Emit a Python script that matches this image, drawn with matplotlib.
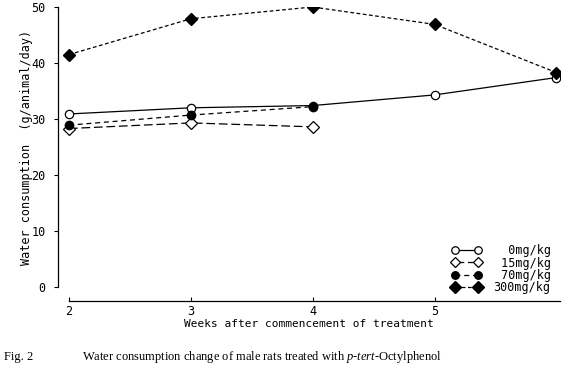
import matplotlib
matplotlib.use('Agg')
import matplotlib.pyplot as plt

###=========== data ==========
weeks = [2, 3, 4, 5, 6]
dose_0 = [30.9, 32.0, 32.4, 34.3, 37.4]
weeks_15 = [2, 3, 4]
dose_15 = [28.3, 29.3, 28.6]
weeks_70 = [2, 3, 4]
dose_70 = [28.9, 30.7, 32.2]
dose_300 = [41.5, 47.9, 50.0, 46.9, 38.3]
labels = ['  0mg/kg', ' 15mg/kg', ' 70mg/kg', '300mg/kg']
yticks = [0, 10, 20, 30, 40, 50]
xticks = [2, 3, 4, 5]

plt.rcParams['mathtext.fontset'] = 'custom'
plt.rcParams['mathtext.it'] = 'Liberation Serif:italic'
plt.rcParams['mathtext.rm'] = 'Liberation Serif'
mono = 'DejaVu Sans Mono'

fig = plt.figure(figsize=(5.75, 3.79), dpi=100)
ax = fig.add_axes([58/575, 92/379, 502/575, 280/379])

ax.plot(weeks, dose_0, color='black', lw=0.9, ls='-', marker='o', ms=6,
        mfc='white', mec='black', mew=0.9, label=labels[0], zorder=3)
ax.plot(weeks_15, dose_15, color='black', lw=0.9, ls=(0, (7, 3)), marker='D', ms=6,
        mfc='white', mec='black', mew=0.9, label=labels[1], zorder=3)
ax.plot(weeks_70, dose_70, color='black', lw=0.9, ls=(0, (4, 3)), marker='o', ms=6,
        mfc='black', mec='black', label=labels[2], zorder=4)
ax.plot(weeks, dose_300, color='black', lw=0.9, ls=(0, (3, 2)), marker='D', ms=6.5,
        mfc='black', mec='black', label=labels[3], zorder=4)

ax.set_xlim(1.91, 6.03)
ax.set_ylim(0, 50)
ax.spines['top'].set_visible(False)
ax.spines['right'].set_visible(False)
ax.spines['bottom'].set_position(('outward', 10))
ax.spines['bottom'].set_bounds(2, 6.03)
ax.spines['left'].set_linewidth(0.9)
ax.spines['bottom'].set_linewidth(0.9)

ax.set_xticks(xticks)
ax.set_yticks(yticks)
ax.tick_params(axis='x', direction='in', length=3, width=0.8, labelsize=8.5, pad=3)
ax.tick_params(axis='y', direction='out', length=3, width=0.8, labelsize=8.5, pad=6)
for t in ax.get_xticklabels() + ax.get_yticklabels():
    t.set_family(mono)

ax.set_ylabel('Water consumption  (g/animal/day)', family=mono, fontsize=8.5, labelpad=-1)
ax.set_xlabel('Weeks after commencement of treatment', family=mono, fontsize=8, labelpad=1)

leg = ax.legend(loc='lower right', bbox_to_anchor=(1.0, -0.06), frameon=False,
                numpoints=2, handlelength=2.6, handletextpad=1.0, labelspacing=-0.05,
                markerscale=0.9, borderpad=0.3,
                prop={'family': mono, 'size': 8.5})

fig.text(4/575, 1 - 357/379, 'Fig. 2', family='Liberation Serif', fontsize=9, va='center')
fig.text(82/575, 1 - 357/379,
         'Water consumption change of male rats treated with $p$-$tert$-Octylphenol',
         family='Liberation Serif', fontsize=9, va='center')

fig.savefig('out.png', dpi=100)
